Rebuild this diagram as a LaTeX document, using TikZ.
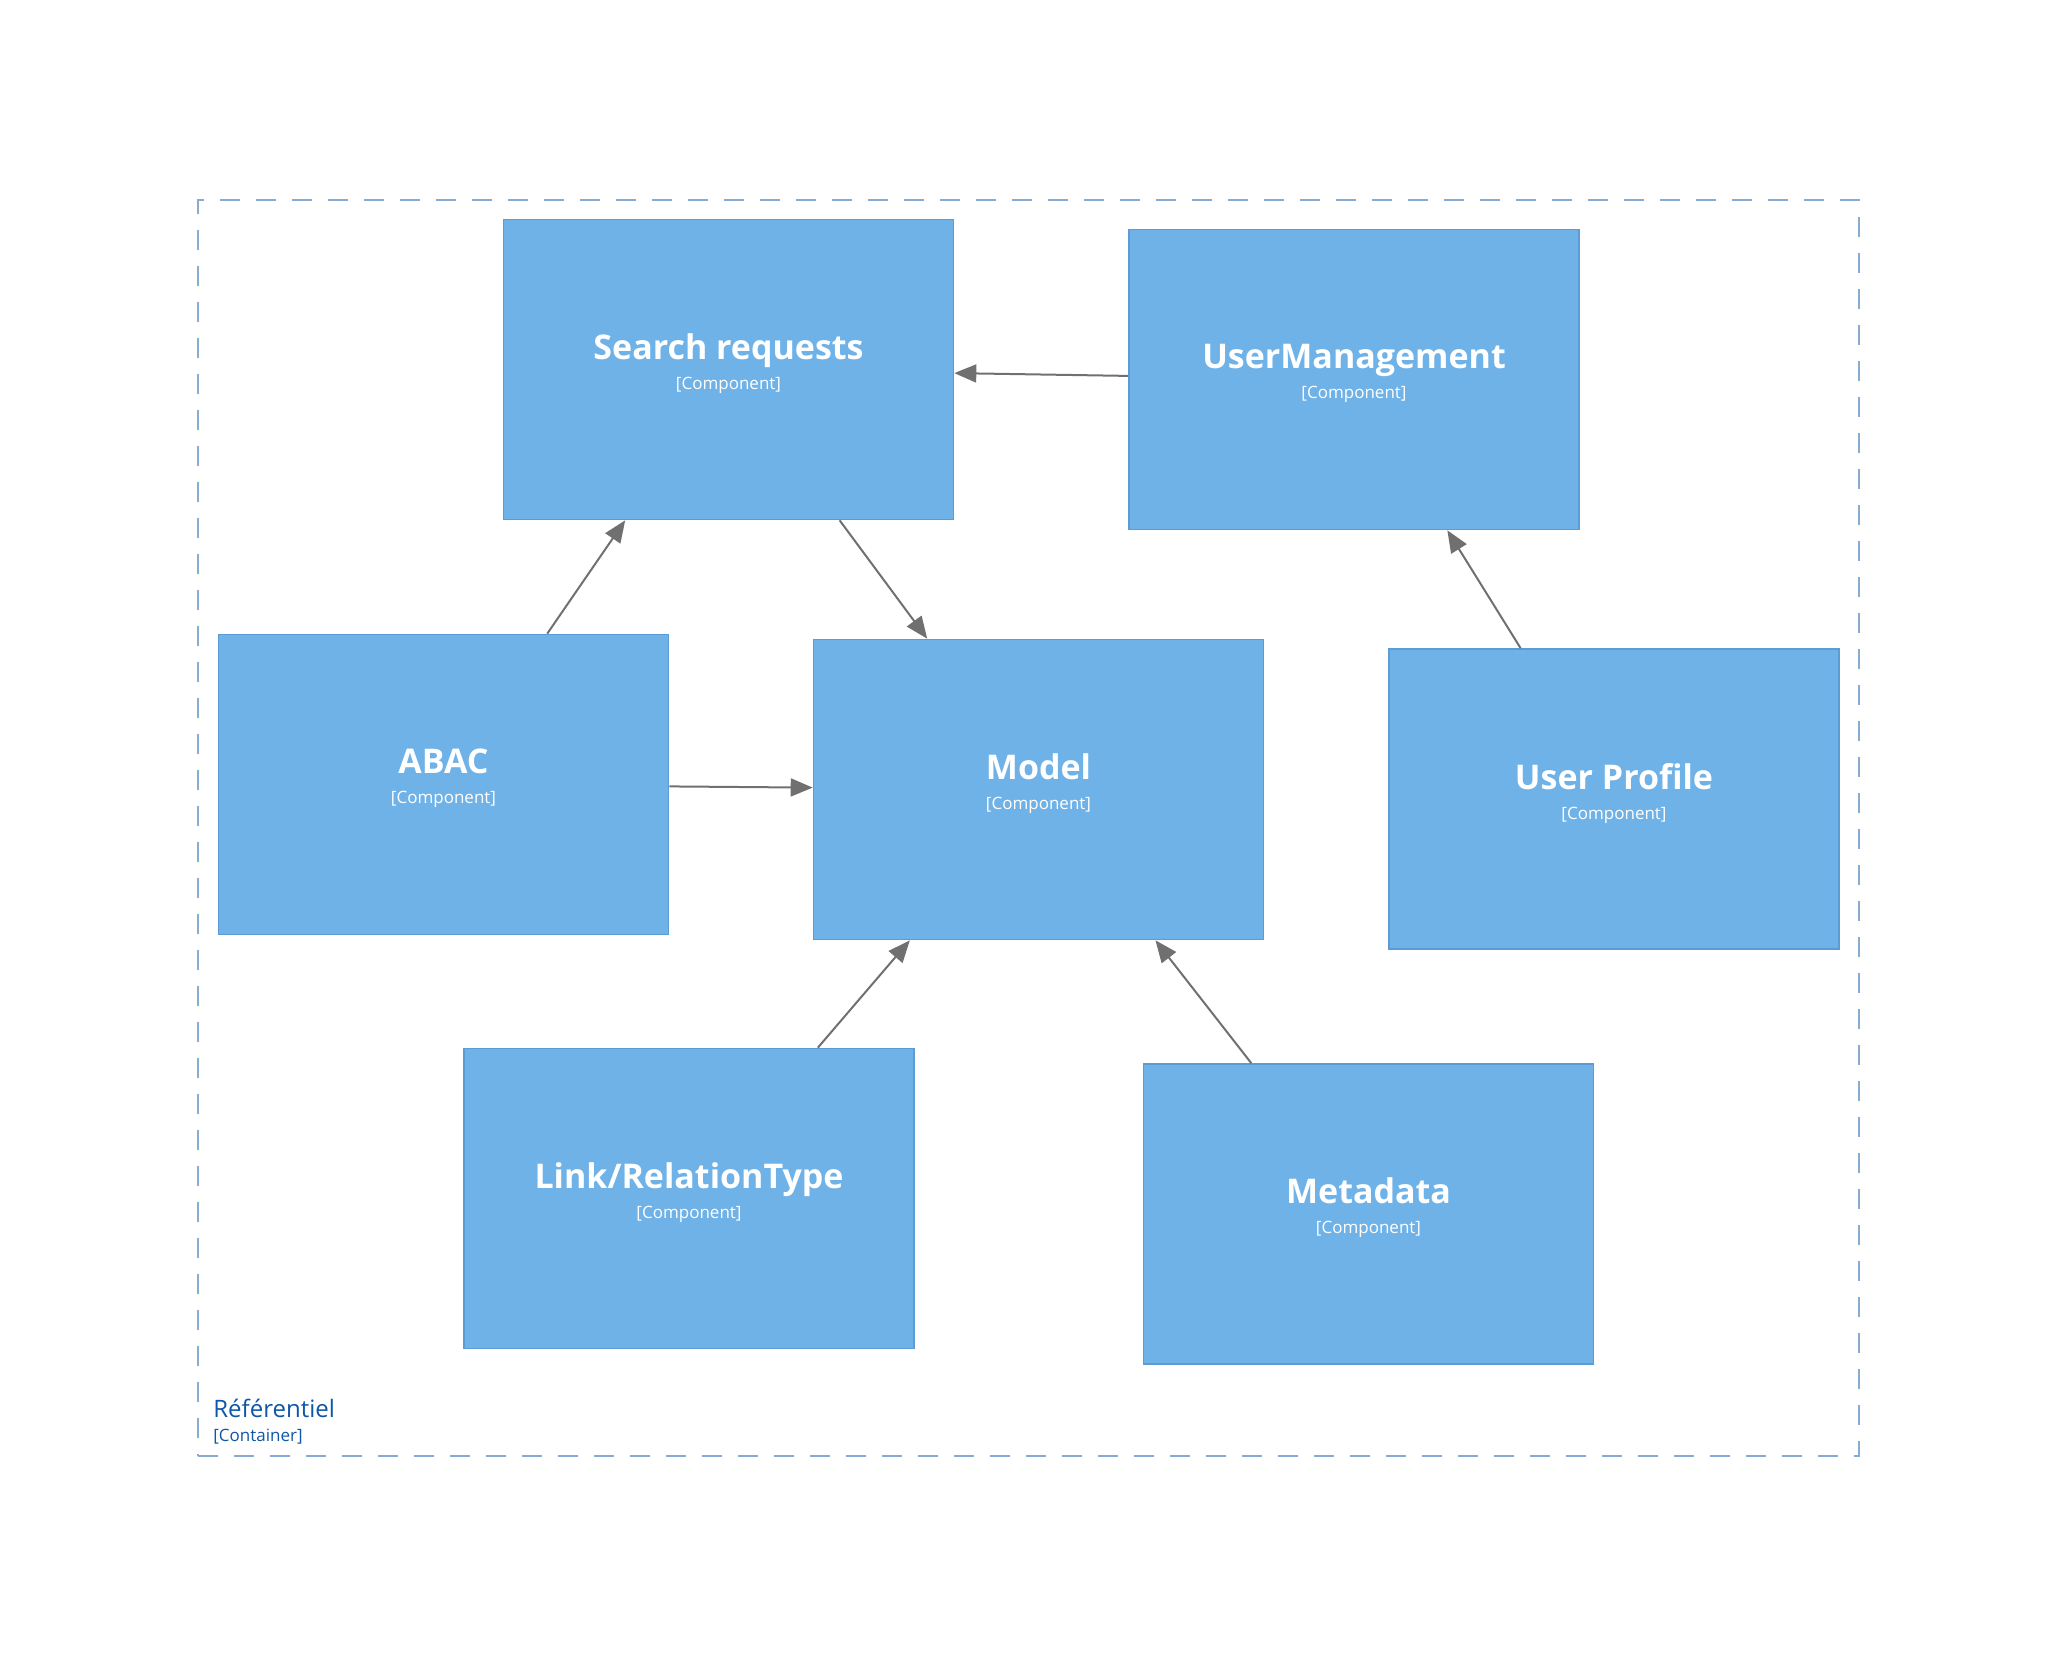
\documentclass[tikz,border=0pt]{standalone}
\usepackage{fontspec}
\setmainfont{Open Sans}
\usetikzlibrary{arrows.meta,calc}
\definecolor{compfill}{HTML}{6FB2E8}
\definecolor{compline}{HTML}{5B9BD6}
\definecolor{edgegray}{HTML}{707070}
\definecolor{contline}{HTML}{86ACD6}
\definecolor{conttext}{HTML}{0F56A8}
\newcommand{\comptext}[1]{\textbf{#1}\\{\fontsize{8.5}{10}\selectfont [Component]}}

\begin{document}
\begin{tikzpicture}[x=0.5pt, y=-0.5pt, >={Triangle[length=11pt,width=9pt]},
  comp/.style={draw=compline, fill=compfill, line width=0.8pt, minimum width=225pt, minimum height=150pt, text=white, align=center, text depth=8pt, font=\fontsize{17}{15}\selectfont},
  uses/.style={->, draw=edgegray, line width=1pt}]
  \useasboundingbox (0,0) rectangle (2060,1656);
  % Container
  \node[draw=contline, line width=1pt, dash pattern=on 10pt off 8pt, minimum width=830.5pt, minimum height=628pt](ref) at (1028.5,828){};
  \node[anchor=south west, inner sep=0pt, align=left, text=conttext, font=\fontsize{12}{12}\selectfont](refLbl) at ($(ref.south west)+(16,-12)$){Référentiel\\{\fontsize{8.5}{10}\selectfont [Container]}};
  % Nodes
  \node[comp](sr) at (728.5,369.5){\comptext{Search requests}};
  \node[comp](um) at (1354,379.5){\comptext{UserManagement}};
  \node[comp](abac) at (443.5,784.5){\comptext{ABAC}};
  \node[comp](model) at (1038.5,789.5){\comptext{Model}};
  \node[comp](prof) at (1614,799){\comptext{User Profile}};
  \node[comp](link) at (689,1198.5){\comptext{Link/RelationType}};
  \node[comp](meta) at (1368.5,1214){\comptext{Metadata}};
  % Edges
  \draw[uses](um)--(sr);
  \draw[uses](abac)--(sr);
  \draw[uses](sr)--(model);
  \draw[uses](abac)--(model);
  \draw[uses](prof)--(um);
  \draw[uses](link)--(model);
  \draw[uses](meta)--(model);
\end{tikzpicture}
\end{document}
